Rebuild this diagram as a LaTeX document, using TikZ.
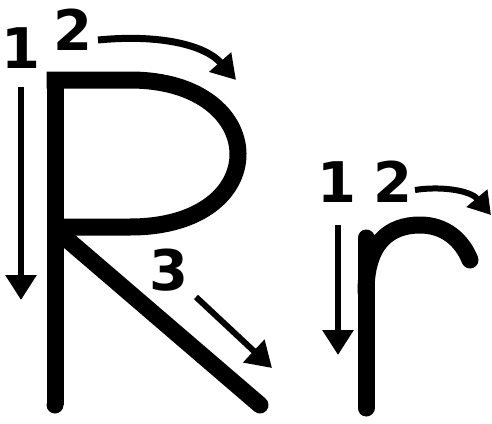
\documentclass[tikz,border=0pt]{standalone}
\usepackage{fontspec}
\newfontfamily\digitfont{DejaVu Sans}
\usetikzlibrary{arrows.meta}
\begin{document}
\begin{tikzpicture}[x=1pt,y=-1pt,
  letterstroke/.style={line width=17pt,line cap=round,line join=round},
  guide/.style={line width=6pt,-{Triangle[length=25pt,width=30pt]}},
  digit/.style={font=\digitfont\bfseries\fontsize{56}{56}\selectfont,inner sep=0pt}]
\useasboundingbox (0,0) rectangle (492,423);
% big R
\draw[letterstroke,line cap=butt] (55,405) -- (55,80);
\fill (55,405) circle (8.5pt);
\draw[letterstroke,line cap=butt,line join=miter] (55,227) -- (130,227) .. controls (276,227) and (272,80) .. (130,80) -- (46.5,80);
\draw[letterstroke] (62,235) -- (260,405);
% small r
\draw[letterstroke] (366,408) -- (366,238);
\draw[letterstroke] (366,292) .. controls (366,242) and (390,225) .. (420,225) .. controls (445,225) and (462,240) .. (470,260);
% digits
\node[digit] (b1) at (21,48) {1};
\node[digit] (b2) at (73,30) {2};
\node[digit] (b3) at (169,270) {3};
\node[digit] (s1) at (337,182) {1};
\node[digit] (s2) at (393,182) {2};
% guide arrows
\coordinate (b1s) at (21,87);
\coordinate (b1e) at (21,300);
\draw[guide] (b1s) -- (b1e);
\coordinate (b2s) at (98,40);
\coordinate (b2e) at (236,80);
\draw[guide,line width=7pt,-{Triangle[length=24pt,width=28pt]}] (b2s) .. controls (160,34) and (205,45) .. (b2e);
\coordinate (b3s) at (196,297);
\coordinate (b3e) at (272,368);
\draw[guide] (b3s) -- (b3e);
\coordinate (s1s) at (338,225);
\coordinate (s1e) at (338,355);
\draw[guide] (s1s) -- (s1e);
\coordinate (s2s) at (415,190);
\coordinate (s2e) at (491,215);
\draw[guide,line width=6pt,-{Triangle[length=22pt,width=26pt]}] (s2s) .. controls (440,186) and (470,190) .. (s2e);
\end{tikzpicture}
\end{document}
